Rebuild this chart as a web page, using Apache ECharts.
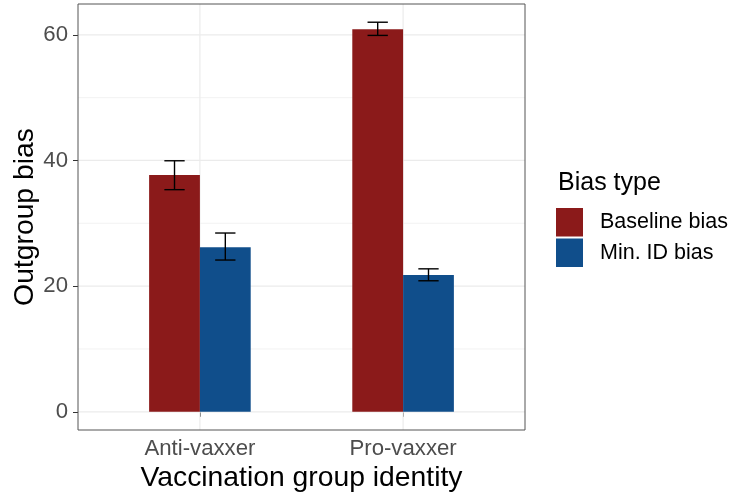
<!DOCTYPE html>
<html><head><meta charset="utf-8">
<script src="https://cdn.jsdelivr.net/npm/echarts@6/dist/echarts.min.js"></script>
<style>html,body{margin:0;padding:0;background:#fff}#c{width:734px;height:493px}</style>
</head><body><div id="c"></div>
<script>
const categories = ['Anti-vaxxer', 'Pro-vaxxer'];
const seriesNames = ['Baseline bias', 'Min. ID bias'];
const baselineMean = [37.7, 60.9];
const baselineLow = [35.35, 59.9];
const baselineHigh = [39.95, 62.0];
const minIdMean = [26.2, 21.75];
const minIdLow = [24.15, 20.85];
const minIdHigh = [28.45, 22.75];
const yTicks = [0, 20, 40, 60];
const yMinor = [10, 30, 50];

const FONT = '"Liberation Sans", Arial, Helvetica, sans-serif';
const colors = ['#8B1A1A', '#104E8B'];
const xPos = categories.map((c, i) => i + 1);
const BAR_W = 0.25;
const X_MIN = 0.4, X_MAX = 2.6, Y_MIN = -2.9, Y_MAX = 64.9;

function barData(means) { return means.map((m, i) => [xPos[i], m]); }
function errData(lows, highs, side) { return lows.map((l, i) => [xPos[i], l, highs[i], side]); }

function barRender(side) {
  return function (params, api) {
    const x = api.value(0), y = api.value(1);
    const x0 = side < 0 ? x - BAR_W : x;
    const p0 = api.coord([x0, y]);
    const p1 = api.coord([x0 + BAR_W, 0]);
    return { type: 'rect', shape: { x: p0[0], y: p0[1], width: p1[0] - p0[0], height: p1[1] - p0[1] }, style: api.style() };
  };
}
function errRender(params, api) {
  const x = api.value(0) + api.value(3) * BAR_W / 2;
  const lo = api.value(1), hi = api.value(2);
  const a = api.coord([x, lo]), b = api.coord([x, hi]);
  const l1 = api.coord([x - 0.05, lo]), r1 = api.coord([x + 0.05, lo]);
  const l2 = api.coord([x - 0.05, hi]), r2 = api.coord([x + 0.05, hi]);
  const st = { stroke: '#000', lineWidth: 1.4 };
  return { type: 'group', children: [
    { type: 'line', shape: { x1: a[0], y1: a[1], x2: b[0], y2: b[1] }, style: st },
    { type: 'line', shape: { x1: l1[0], y1: l1[1], x2: r1[0], y2: r1[1] }, style: st },
    { type: 'line', shape: { x1: l2[0], y1: l2[1], x2: r2[0], y2: r2[1] }, style: st }
  ]};
}
// grid line data: [orientation (0 = horizontal, 1 = vertical), value, major flag]
const gridData = [].concat(
  yMinor.map(v => [0, v, 0]),
  yTicks.map(v => [0, v, 1]),
  xPos.map(v => [1, v, 1])
);
function gridRender(params, api) {
  const o = api.value(0), v = api.value(1), major = api.value(2);
  const a = o === 0 ? api.coord([X_MIN, v]) : api.coord([v, Y_MIN]);
  const b = o === 0 ? api.coord([X_MAX, v]) : api.coord([v, Y_MAX]);
  return { type: 'line', shape: { x1: a[0], y1: a[1], x2: b[0], y2: b[1] },
    style: { stroke: '#ebebeb', lineWidth: major ? 1.2 : 0.6 } };
}

const chart = echarts.init(document.getElementById('c'), null, { renderer: 'canvas' });
chart.setOption({
  animation: false,
  backgroundColor: '#fff',
  textStyle: { fontFamily: FONT },
  grid: { left: 78, top: 4, width: 447, height: 426, outerBoundsMode: 'none', containLabel: false,
    show: true, borderColor: '#555', borderWidth: 1, backgroundColor: 'transparent', z: 10 },
  xAxis: {
    type: 'value', min: X_MIN, max: X_MAX,
    name: 'Vaccination group identity', nameLocation: 'middle', nameGap: 34, nameMoveOverlap: false,
    nameTextStyle: { fontSize: 28.3, color: '#000', fontFamily: FONT },
    axisLine: { show: false },
    axisTick: { show: true, length: 5, customValues: xPos, lineStyle: { color: '#333', width: 1 } },
    axisLabel: { customValues: xPos, margin: 8, fontSize: 22.2, color: '#4d4d4d', fontFamily: FONT,
      formatter: v => categories[Math.round(v) - 1] || '' },
    splitLine: { show: false }
  },
  yAxis: {
    type: 'value', min: Y_MIN, max: Y_MAX,
    name: 'Outgroup bias', nameLocation: 'middle', nameGap: 39, nameMoveOverlap: false,
    nameTextStyle: { fontSize: 28.3, color: '#000', fontFamily: FONT },
    axisLine: { show: false },
    axisTick: { show: true, length: 5, customValues: yTicks, lineStyle: { color: '#333', width: 1 } },
    axisLabel: { customValues: yTicks, margin: 10, fontSize: 22.2, color: '#4d4d4d', fontFamily: FONT },
    splitLine: { show: false }
  },
  legend: {
    data: seriesNames, orient: 'vertical', left: 556, top: 208, padding: 0,
    itemWidth: 27, itemHeight: 28.5, itemGap: 2, icon: 'rect',
    textStyle: { fontSize: 21.5, color: '#000', fontFamily: FONT, padding: [0, 0, 0, 12] }
  },
  graphic: [{ type: 'text', left: 558, top: 171, style: { text: 'Bias type', fontSize: 25, fill: '#000', fontFamily: FONT } }],
  series: [
    { type: 'custom', renderItem: gridRender, data: gridData, silent: true, z: 1, encode: { x: -1, y: -1 } },
    { name: seriesNames[0], type: 'custom', renderItem: barRender(-1), data: barData(baselineMean),
      itemStyle: { color: colors[0] }, encode: { x: 0, y: 1 }, z: 3 },
    { name: seriesNames[1], type: 'custom', renderItem: barRender(1), data: barData(minIdMean),
      itemStyle: { color: colors[1] }, encode: { x: 0, y: 1 }, z: 3 },
    { type: 'custom', renderItem: errRender, data: errData(baselineLow, baselineHigh, -1), encode: { x: 0, y: [1, 2] }, z: 5, silent: true },
    { type: 'custom', renderItem: errRender, data: errData(minIdLow, minIdHigh, 1), encode: { x: 0, y: [1, 2] }, z: 5, silent: true }
  ]
});
</script>
</body></html>
